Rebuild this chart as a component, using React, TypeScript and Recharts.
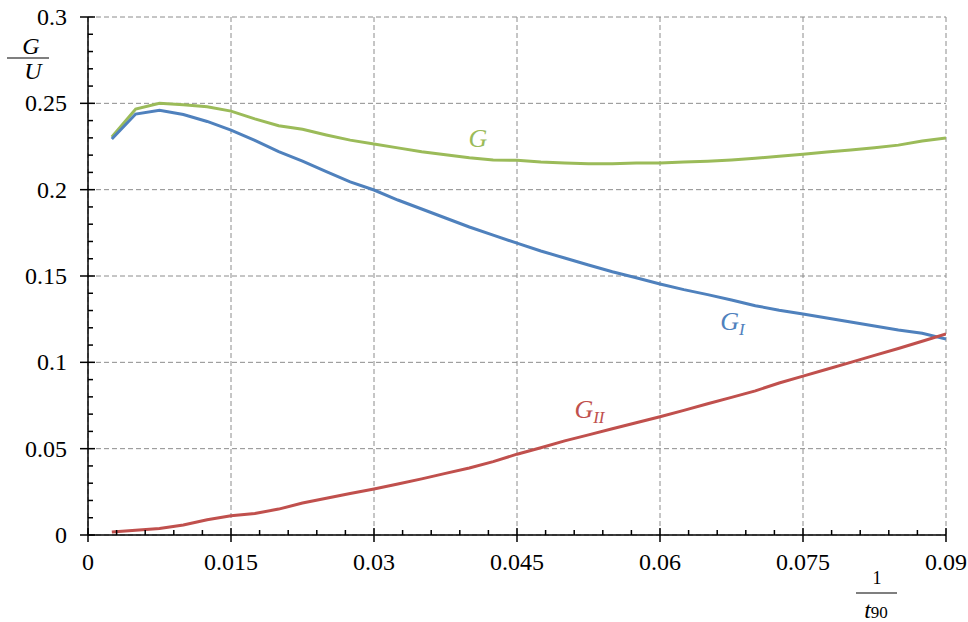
import React from "react";
import { LineChart, Line, XAxis, YAxis, CartesianGrid, ReferenceDot } from "recharts";

const X_VALUES = [
    0.0025, 0.005, 0.0075, 0.01, 0.0125, 0.015, 0.0175, 0.02, 0.0225, 0.025, 0.0275, 0.03,
    0.0325, 0.035, 0.0375, 0.04, 0.0425, 0.045, 0.0475, 0.05, 0.0525, 0.055, 0.0575, 0.06,
    0.0625, 0.065, 0.0675, 0.07, 0.0725, 0.075, 0.0775, 0.08, 0.0825, 0.085, 0.0875, 0.09,
];

const G_VALUES = [
    0.2305, 0.2467, 0.25, 0.2492, 0.248, 0.2455, 0.241, 0.237, 0.235, 0.2317, 0.2287, 0.2265,
    0.2242, 0.222, 0.2202, 0.2185, 0.2172, 0.217, 0.216, 0.2155, 0.215, 0.215, 0.2155, 0.2155,
    0.216, 0.2165, 0.2172, 0.2182, 0.2194, 0.2205, 0.2218, 0.223, 0.2243, 0.2258, 0.2282, 0.23,
];

const GI_VALUES = [
    0.2293, 0.2438, 0.246, 0.2435, 0.2395, 0.2345, 0.2285, 0.222, 0.2165, 0.2105, 0.2045, 0.1998,
    0.194, 0.1888, 0.1836, 0.1784, 0.1737, 0.169, 0.1645, 0.1604, 0.1564, 0.1525, 0.149, 0.1454,
    0.1421, 0.1392, 0.1361, 0.1328, 0.1302, 0.128, 0.1257, 0.1234, 0.121, 0.1187, 0.1168, 0.1135,
];

const GII_VALUES = [
    0.0017, 0.0028, 0.0038, 0.0058, 0.0088, 0.0112, 0.0125, 0.015, 0.0185, 0.0213, 0.024, 0.0266,
    0.0295, 0.0325, 0.0357, 0.0388, 0.0425, 0.0468, 0.0505, 0.0545, 0.058, 0.0615, 0.065, 0.0685,
    0.0722, 0.076, 0.0797, 0.0835, 0.088, 0.092, 0.096, 0.1, 0.104, 0.108, 0.1122, 0.1165,
];

const X_MAJOR = [0, 0.015, 0.03, 0.045, 0.06, 0.075, 0.09];
const Y_MAJOR = [0, 0.05, 0.1, 0.15, 0.2, 0.25, 0.3];

// 5 subdivisions between the labelled ticks
const X_MINOR = X_MAJOR.slice(0, -1).flatMap((v) => [0, 1, 2, 3, 4].map((i) => v + i * 0.003)).concat([0.09]);
const Y_MINOR = Y_MAJOR.slice(0, -1).flatMap((v) => [0, 1, 2, 3, 4].map((i) => v + i * 0.01)).concat([0.3]);

const GREEN = "#9BBB59";
const BLUE = "#4F81BD";
const RED = "#C0504D";
const SERIF = { fontFamily: "Liberation Serif" };

const data = X_VALUES.map((x, i) => ({ x, g: G_VALUES[i], gi: GI_VALUES[i], gii: GII_VALUES[i] }));

const isMajor = (v: number, step: number) => Math.abs(v / step - Math.round(v / step)) < 1e-6;
const fmt = (v: number) => Number(v.toFixed(3)).toString();

const XTick = (props: any) => {
    const { x, y, payload } = props;
    const major = isMajor(payload.value, 0.015);
    return (
        <g>
            {major
                ? <line x1={x} x2={x} y1={y - 7} y2={y + 7} stroke="#000" strokeWidth={1.5} />
                : <line x1={x} x2={x} y1={y - 5} y2={y} stroke="#000" strokeWidth={1.5} />}
            {major && (
                <text x={x} y={y + 27} textAnchor="middle" dominantBaseline="central" style={SERIF} fontSize={24} fill="#000">
                    {fmt(payload.value)}
                </text>
            )}
        </g>
    );
};

const YTick = (props: any) => {
    const { x, y, payload } = props;
    const major = isMajor(payload.value, 0.05);
    return (
        <g>
            {major
                ? <line x1={x - 8} x2={x + 7} y1={y} y2={y} stroke="#000" strokeWidth={1.5} />
                : <line x1={x} x2={x + 5} y1={y} y2={y} stroke="#000" strokeWidth={1.5} />}
            {major && (
                <text x={x - 21} y={y} textAnchor="end" dominantBaseline="central" style={SERIF} fontSize={24} fill="#000">
                    {fmt(payload.value)}
                </text>
            )}
        </g>
    );
};

const seriesLabel = (main: string, sub: string, color: string) => (props: any) => {
    const { viewBox } = props;
    const cx = viewBox.x + (viewBox.width || 0) / 2;
    const cy = viewBox.y + (viewBox.height || 0) / 2;
    return (
        <text x={cx} y={cy} textAnchor="middle" dominantBaseline="central" style={SERIF} fontStyle="italic" fontSize={26} fill={color}>
            {main}
            {sub && <tspan fontSize={17} dy={7}>{sub}</tspan>}
        </text>
    );
};

const App: React.FC = () => {
    return (
        <div style={{ position: "absolute", left: 0, top: 0, width: 968, height: 622, background: "#fff" }}>
            <LineChart width={968} height={622} data={data} margin={{ top: 17, right: 22, bottom: 47, left: 0 }}>
                <CartesianGrid
                    stroke="#8c8c8c"
                    strokeDasharray="5 3"
                    verticalValues={X_MAJOR}
                    horizontalValues={Y_MAJOR}
                />
                <XAxis
                    dataKey="x"
                    type="number"
                    domain={[0, 0.09]}
                    ticks={X_MINOR}
                    interval={0}
                    height={40}
                    tickSize={0}
                    tickMargin={0}
                    tickLine={false}
                    axisLine={{ stroke: "#000", strokeWidth: 1.5 }}
                    tick={<XTick />}
                    allowDataOverflow
                />
                <YAxis
                    type="number"
                    domain={[0, 0.3]}
                    ticks={Y_MINOR}
                    interval={0}
                    width={88}
                    tickSize={0}
                    tickMargin={0}
                    tickLine={false}
                    axisLine={{ stroke: "#000", strokeWidth: 1.5 }}
                    tick={<YTick />}
                    allowDataOverflow
                />
                <Line type="linear" dataKey="g" stroke={GREEN} strokeWidth={3} dot={false} isAnimationActive={false} />
                <Line type="linear" dataKey="gi" stroke={BLUE} strokeWidth={3} dot={false} isAnimationActive={false} />
                <Line type="linear" dataKey="gii" stroke={RED} strokeWidth={3} dot={false} isAnimationActive={false} />
                <ReferenceDot x={0.0409} y={0.2294} r={0} fill="none" stroke="none" label={seriesLabel("G", "", GREEN)} />
                <ReferenceDot x={0.0676} y={0.1234} r={0} fill="none" stroke="none" label={seriesLabel("G", "I", BLUE)} />
                <ReferenceDot x={0.0526} y={0.0724} r={0} fill="none" stroke="none" label={seriesLabel("G", "II", RED)} />
            </LineChart>
            <svg width={968} height={622} style={{ position: "absolute", left: 0, top: 0, pointerEvents: "none", ...SERIF }}>
                <text x={31} y={46} textAnchor="middle" dominantBaseline="central" fontStyle="italic" fontSize={24} fill="#000">G</text>
                <line x1={7} x2={49} y1={58} y2={58} stroke="#555" strokeWidth={1.5} />
                <text x={33} y={71} textAnchor="middle" dominantBaseline="central" fontStyle="italic" fontSize={24} fill="#000">U</text>
                <text x={877} y={578} textAnchor="middle" dominantBaseline="central" fontSize={18} fill="#000">1</text>
                <line x1={856} x2={897} y1={593} y2={593} stroke="#555" strokeWidth={1.5} />
                <text x={876} y={610} textAnchor="middle" dominantBaseline="central" fontSize={24} fill="#000">
                    <tspan fontStyle="italic">t</tspan>
                    <tspan fontSize={17} dy={2}>90</tspan>
                </text>
            </svg>
        </div>
    );
};

export default App;
